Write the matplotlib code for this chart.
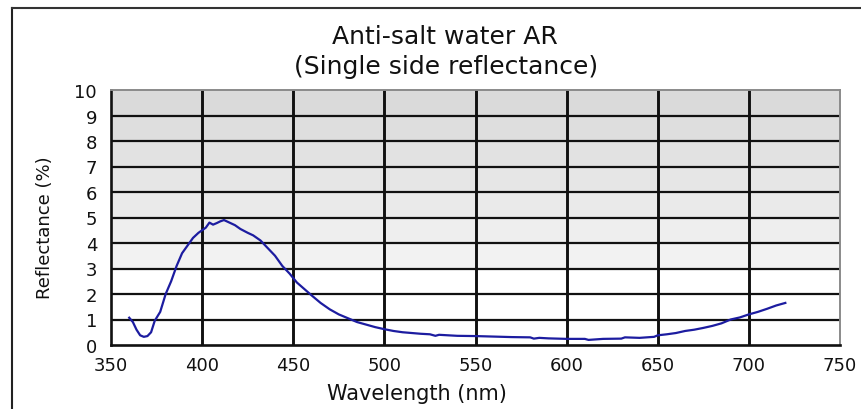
import matplotlib
matplotlib.use("Agg")
import matplotlib.pyplot as plt
from matplotlib.lines import Line2D

# ---- data ----
wavelength = [360, 362, 364, 366, 368, 370, 372, 374, 377, 380,
              383, 386, 389, 392, 395, 398, 400, 402, 404, 406,
              408, 410, 412, 415, 418, 421, 425, 428, 432, 436,
              440, 444, 448, 452, 456, 460, 465, 470, 475, 480,
              485, 490, 495, 500, 505, 510, 515, 520, 525, 528,
              530, 535, 540, 550, 560, 570, 580, 582, 585, 590,
              600, 610, 612, 620, 630, 632, 640, 648, 650, 655,
              660, 665, 670, 675, 680, 685, 690, 695, 700, 705,
              710, 715, 720]
reflectance = [1.07, 0.9, 0.6, 0.38, 0.32, 0.35, 0.5, 0.95, 1.3, 2.0,
               2.5, 3.1, 3.6, 3.9, 4.2, 4.4, 4.5, 4.6, 4.8, 4.72,
               4.78, 4.85, 4.9, 4.8, 4.7, 4.55, 4.4, 4.3, 4.1, 3.8,
               3.5, 3.1, 2.8, 2.45, 2.2, 1.95, 1.65, 1.4, 1.2, 1.05,
               0.9, 0.8, 0.7, 0.62, 0.55, 0.5, 0.47, 0.44, 0.42, 0.36,
               0.4, 0.38, 0.36, 0.35, 0.33, 0.31, 0.3, 0.25, 0.28, 0.26,
               0.24, 0.24, 0.2, 0.24, 0.25, 0.3, 0.28, 0.32, 0.38, 0.42,
               0.47, 0.55, 0.6, 0.67, 0.75, 0.85, 1.0, 1.08, 1.2, 1.3,
               1.42, 1.55, 1.65]
x_ticks = [350, 400, 450, 500, 550, 600, 650, 700, 750]
y_ticks = [0, 1, 2, 3, 4, 5, 6, 7, 8, 9, 10]
band_colors = ["#ffffff", "#ffffff", "#ffffff", "#f2f2f2", "#eeeeee",
               "#eaeaea", "#e6e6e6", "#e2e2e2", "#dedede", "#dadada"]

title1 = "Anti-salt water AR"
title2 = "(Single side reflectance)"
xlabel = "Wavelength (nm)"
ylabel = "Reflectance (%)"

plt.rcParams['font.family'] = ['DejaVu Sans']

W, H = 861, 410
fig = plt.figure(figsize=(W / 100, H / 100), dpi=100)
ax = fig.add_axes([111 / W, 64 / H, 729 / W, 255 / H])
ax.set_xlim(350, 750)
ax.set_ylim(0, 10)

# shaded bands
for i, c in enumerate(band_colors):
    ax.axhspan(i, i + 1, color=c, zorder=0, lw=0)

# grid
for x in x_ticks[1:-1]:
    ax.axvline(x, color="#111111", lw=2.1, zorder=1)
for y in y_ticks[1:-1]:
    ax.axhline(y, color="#111111", lw=1.6, zorder=1)

ax.plot(wavelength, reflectance, color="#1c1ca0", lw=1.6, zorder=3)

for s in ["left", "bottom"]:
    ax.spines[s].set_color("#111111")
    ax.spines[s].set_linewidth(1.9)
for s in ["top", "right"]:
    ax.spines[s].set_color("#8a8a8a")
    ax.spines[s].set_linewidth(1.4)

ax.set_xticks(x_ticks)
ax.set_yticks(y_ticks)
ax.tick_params(length=0, labelsize=13, colors="#111111")
ax.tick_params(axis="x", pad=8)
ax.tick_params(axis="y", pad=10)

fig.text(445 / W, 1 - 37 / H, title1, ha="center", va="center", fontsize=18, color="#111111")
fig.text(446 / W, 1 - 67 / H, title2, ha="center", va="center", fontsize=18, color="#111111")
fig.text(417 / W, 1 - 394 / H, xlabel, ha="center", va="center", fontsize=15, color="#111111")
fig.text(45 / W, 1 - 228 / H, ylabel, ha="center", va="center", rotation=90, fontsize=13, color="#111111")

# outer frame
fig.add_artist(Line2D([12 / W, 12 / W], [0, 1 - 9 / H], transform=fig.transFigure, color="#222222", lw=1.5))
fig.add_artist(Line2D([12 / W, 1], [1 - 9 / H, 1 - 9 / H], transform=fig.transFigure, color="#333333", lw=1.5))

fig.savefig("out.png", dpi=100)
